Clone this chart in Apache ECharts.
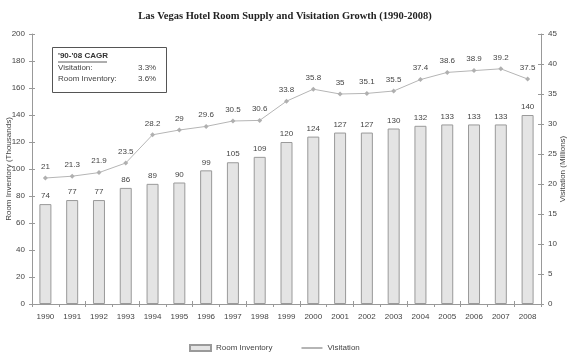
<!DOCTYPE html>
<html><head><meta charset="utf-8">
<script src="https://cdn.jsdelivr.net/npm/echarts@6/dist/echarts.min.js"></script>
<style>html,body{margin:0;padding:0;background:#fff}#c{width:570px;height:354px}</style>
</head><body><div id="c"></div>
<script>
var years = ['1990','1991','1992','1993','1994','1995','1996','1997','1998','1999','2000','2001','2002','2003','2004','2005','2006','2007','2008'];
var roomInventory = [74,77,77,86,89,90,99,105,109,120,124,127,127,130,132,133,133,133,140];
var visitation = [21,21.3,21.9,23.5,28.2,29,29.6,30.5,30.6,33.8,35.8,35,35.1,35.5,37.4,38.6,38.9,39.2,37.5];
var leftTicks = [0,20,40,60,80,100,120,140,160,180,200];
var rightTicks = [0,5,10,15,20,25,30,35,40,45];

var F = 'Liberation Sans, Arial, sans-serif';
var axisCol = '#999';
var txt = '#444';
var leftMax = leftTicks[leftTicks.length-1], leftStep = leftTicks[1]-leftTicks[0];
var rightMax = rightTicks[rightTicks.length-1], rightStep = rightTicks[1]-rightTicks[0];
function innerTickAxis(pos, max, step) {
  return {type:'value', position:pos, min:0, max:max, interval:step,
    axisLine:{show:false}, axisLabel:{show:false}, splitLine:{show:false},
    axisTick:{show:true, inside:true, length:3, lineStyle:{color:axisCol}}};
}
var chart = echarts.init(document.getElementById('c'), null, {renderer:'canvas'});
chart.setOption({
  animation:false,
  title:{text:'Las Vegas Hotel Room Supply and Visitation Growth (1990-2008)', left:'center', top:6,
    textStyle:{fontFamily:'Liberation Serif, Times New Roman, serif', fontWeight:'bold', fontSize:10.5, color:'#222'}},
  grid:{left:32, right:29, top:34, bottom:50, containLabel:false, outerBoundsMode:'none'},
  legend:{top:339, left:184, itemGap:28, itemWidth:21, itemHeight:6,
    textStyle:{fontFamily:F, fontSize:8, color:txt},
    data:[{name:'Room Inventory', icon:'rect'},{name:'Visitation', itemStyle:{opacity:0}}]},
  xAxis:[
    {type:'category', data:years, boundaryGap:true,
      axisLine:{lineStyle:{color:axisCol}}, axisTick:{show:true, length:3, lineStyle:{color:axisCol}},
      axisLabel:{fontFamily:F, fontSize:8, color:txt, margin:9}},
    {type:'category', data:years, boundaryGap:true, position:'bottom',
      axisLine:{show:false}, axisLabel:{show:false},
      axisTick:{show:true, inside:true, length:3, lineStyle:{color:axisCol}}}
  ],
  yAxis:[
    {type:'value', min:0, max:leftMax, interval:leftStep, name:'Room Inventory (Thousands)', nameLocation:'middle', nameGap:19,
      nameMoveOverlap:false,
      nameTextStyle:{fontFamily:F, fontSize:8, color:txt},
      axisLine:{show:true, lineStyle:{color:axisCol}}, axisTick:{show:true, length:3, lineStyle:{color:axisCol}},
      splitLine:{show:false}, axisLabel:{fontFamily:F, fontSize:8, color:txt, margin:7}},
    {type:'value', min:0, max:rightMax, interval:rightStep, name:'Visitation (Millions)', nameLocation:'middle', nameGap:18, nameRotate:90,
      nameMoveOverlap:false,
      nameTextStyle:{fontFamily:F, fontSize:8, color:txt},
      axisLine:{show:true, lineStyle:{color:axisCol}}, axisTick:{show:true, length:3, lineStyle:{color:axisCol}},
      splitLine:{show:false}, axisLabel:{fontFamily:F, fontSize:8, color:txt, margin:7}},
    innerTickAxis('left', leftMax, leftStep),
    innerTickAxis('right', rightMax, rightStep)
  ],
  series:[
    {name:'Room Inventory', type:'bar', data:roomInventory, barWidth:12, yAxisIndex:0, xAxisIndex:0,
      itemStyle:{color:'#e4e4e4', borderColor:'#9a9a9a', borderWidth:1},
      label:{show:true, position:'top', distance:4, fontFamily:F, fontSize:8, color:txt}},
    {name:'Visitation', type:'line', data:visitation, yAxisIndex:1, xAxisIndex:0, symbol:'diamond', symbolSize:5,
      lineStyle:{color:'#b5b5b5', width:1}, itemStyle:{color:'#b0b0b0'},
      label:{show:true, position:'top', distance:5, fontFamily:F, fontSize:8, color:txt}}
  ],
  graphic:[
    {type:'rect', left:52, top:47, shape:{width:114, height:45}, style:{fill:'#fff', stroke:'#555', lineWidth:1}},
    {type:'text', left:58, top:52, style:{text:"'90-'08 CAGR", font:'bold 8px '+F, fill:'#333'}},
    {type:'line', shape:{x1:58, y1:62, x2:107, y2:62}, style:{stroke:'#333', lineWidth:0.8}},
    {type:'text', left:58, top:64, style:{text:'Visitation:', font:'8px '+F, fill:txt}},
    {type:'text', left:138, top:64, style:{text:'3.3%', font:'8px '+F, fill:txt}},
    {type:'text', left:58, top:75, style:{text:'Room Inventory:', font:'8px '+F, fill:txt}},
    {type:'text', left:138, top:75, style:{text:'3.6%', font:'8px '+F, fill:txt}}
  ]
});
</script></body></html>
